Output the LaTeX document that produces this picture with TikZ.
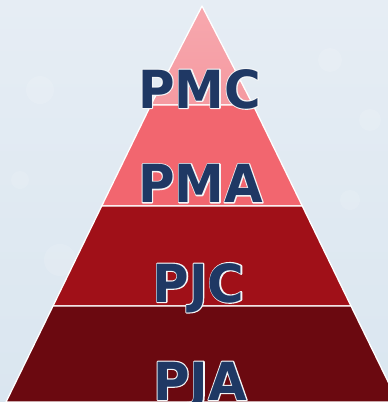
\documentclass[tikz,border=0pt]{standalone}
\usepackage{fontspec}
\newfontfamily\pyrfont{DejaVu Sans Bold}[FakeStretch=0.95]
\usetikzlibrary{calc}
\definecolor{bgA}{HTML}{E6EDF4}
\definecolor{bgB}{HTML}{DAE6F0}
\definecolor{layA}{HTML}{F59AA1}
\definecolor{layAtop}{HTML}{F7A8AE}
\definecolor{layB}{HTML}{F2666F}
\definecolor{layC}{HTML}{A01018}
\definecolor{layD}{HTML}{6B0910}
\definecolor{navy}{HTML}{1F3864}
\definecolor{rim}{HTML}{F4F6F8}
\tikzset{
  layer/.style={draw=white, line width=1.3pt, line join=round},
  lbl/.style={anchor=base, inner sep=0pt, font=\pyrfont\fontsize{52.5}{52.5}\selectfont},
}
\newcommand{\outlined}[3]{%
  \node[lbl, text=rim] at (#1) {\special{pdf:literal direct 1 Tr 2.2 w 1 j}#3\special{pdf:literal direct 0 Tr}};
  \node[lbl, text=navy] (#2) at (#1) {#3};
}
\begin{document}
\begin{tikzpicture}[x=1pt,y=-1pt]
\useasboundingbox (0,0) rectangle (388,402);
\shade[top color=bgA, bottom color=bgB] (0,0) rectangle (388,402);
\foreach \p/\r in {{(40,90)}/14,{(330,60)}/12,{(60,260)}/16,{(350,200)}/10,{(20,180)}/9,{(370,120)}/11}{
  \fill[white, opacity=0.12] \p circle (\r);
}
\coordinate (apex) at (202,6);
\coordinate (l1) at (150.9,105);
\coordinate (r1) at (253.1,105);
\coordinate (l2) at (101.7,206);
\coordinate (r2) at (302.3,206);
\coordinate (l3) at (53.0,306);
\coordinate (r3) at (351.0,306);
\coordinate (l4) at (6.0,402);
\coordinate (r4) at (398.0,402);
\clip (0,0) rectangle (388,402);
\shade[top color=layAtop, bottom color=layA, draw=white, line width=1.3pt, line join=round] (apex) -- (r1) -- (l1) -- cycle;
\path[layer, fill=layB] (l1) -- (r1) -- (r2) -- (l2) -- cycle;
\path[layer, fill=layC] (l2) -- (r2) -- (r3) -- (l3) -- cycle;
\path[layer, fill=layD] (l3) -- (r3) -- (r4) -- (l4) -- cycle;
\coordinate (p1) at (199.5,108);
\coordinate (p2) at (200.5,202.5);
\coordinate (p3) at (198.5,302);
\coordinate (p4) at (200,400);
\outlined{p1}{t1}{PMC}
\outlined{p2}{t2}{PMA}
\outlined{p3}{t3}{PJC}
\outlined{p4}{t4}{PJA}
\end{tikzpicture}
\end{document}
